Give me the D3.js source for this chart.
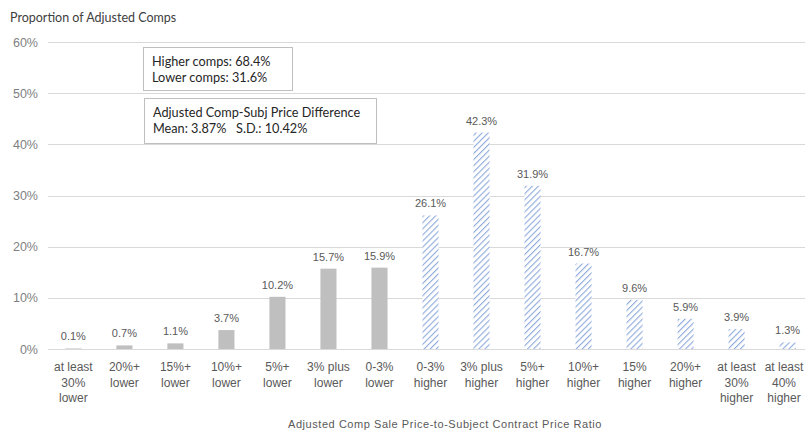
<!DOCTYPE html>
<html>
<head>
<meta charset="utf-8">
<script src="https://cdn.jsdelivr.net/npm/d3@7"></script>
<style>
  body { margin: 0; background: #fff; }
  svg { display: block; }
</style>
</head>
<body>
<svg width="805" height="433"></svg>
<script>
// categories (two groups: lower comps / higher comps)
const categories = [
  ["at least", "30%", "lower"], ["20%+", "lower"], ["15%+", "lower"], ["10%+", "lower"],
  ["5%+", "lower"], ["3% plus", "lower"], ["0-3%", "lower"],
  ["0-3%", "higher"], ["3% plus", "higher"], ["5%+", "higher"], ["10%+", "higher"],
  ["15%", "higher"], ["20%+", "higher"], ["at least", "30%", "higher"], ["at least", "40%", "higher"]
];
const values = [0.1, 0.7, 1.1, 3.7, 10.2, 15.7, 15.9, 26.1, 42.3, 31.9, 16.7, 9.6, 5.9, 3.9, 1.3];
const groups = ["lower", "lower", "lower", "lower", "lower", "lower", "lower",
                "higher", "higher", "higher", "higher", "higher", "higher", "higher", "higher"];
const yTicks = [0, 10, 20, 30, 40, 50, 60];
const boxLines1 = ["Higher comps: 68.4%", "Lower comps: 31.6%"];
const boxLines2 = ["Adjusted Comp-Subj Price Difference", "Mean: 3.87%   S.D.: 10.42%"];

let svg = d3.select("svg");
let svg_width = +svg.attr("width");

// hatch pattern for the "higher" bars
let defs = svg.append("defs");
let pat = defs.append("pattern")
    .attr("id", "hatch")
    .attr("patternUnits", "userSpaceOnUse")
    .attr("width", 4.3)
    .attr("height", 4.3)
    .attr("patternTransform", "rotate(45)");
pat.append("rect").attr("width", 4.3).attr("height", 4.3).attr("fill", "#fff");
pat.append("line")
    .attr("x1", 0).attr("y1", 0).attr("x2", 0).attr("y2", 4.3)
    .attr("stroke", "#8faadc").attr("stroke-width", 2.2);

let x = d3.scaleBand()
    .domain(d3.range(categories.length))
    .range([48, 813])
    .paddingInner(0.685)
    .paddingOuter(0.34);

let y = d3.scaleLinear()
    .domain([0, 60])
    .range([349, 42]);

// gridlines
svg.append("g")
  .selectAll("line")
  .data(yTicks)
  .enter().append("line")
    .attr("x1", 48).attr("x2", 805)
    .attr("y1", d => Math.round(y(d)) + 0.5)
    .attr("y2", d => Math.round(y(d)) + 0.5)
    .attr("stroke", "#d9d9d9")
    .attr("stroke-width", 1);

// y axis labels
let yAxis = svg.append("g")
    .attr("transform", "translate(38,0)")
    .call(d3.axisLeft(y).tickValues(yTicks).tickFormat(d => d + "%").tickSize(0).tickPadding(0));
yAxis.select(".domain").remove();
yAxis.selectAll("text")
    .attr("fill", "#7f7f7f")
    .style("font-family", "'Liberation Sans', Arial, sans-serif")
    .style("font-size", "12.5px");

// bars
svg.append("g")
  .selectAll("rect")
  .data(values)
  .enter().append("rect")
    .attr("x", (d, i) => x(i))
    .attr("width", x.bandwidth())
    .attr("y", d => y(d))
    .attr("height", d => y(0) - y(d))
    .attr("fill", (d, i) => groups[i] === "lower" ? "#bfbfbf" : "url(#hatch)");

// value labels
svg.append("g")
  .selectAll("text")
  .data(values)
  .enter().append("text")
    .attr("x", (d, i) => x(i) + x.bandwidth() / 2)
    .attr("y", d => y(d) - 8)
    .attr("text-anchor", "middle")
    .attr("fill", "#595959")
    .style("font-family", "'Liberation Sans', Arial, sans-serif")
    .style("font-size", "11px")
    .text(d => d.toFixed(1) + "%");

// category labels
let catText = svg.append("g")
  .selectAll("text")
  .data(categories)
  .enter().append("text")
    .attr("text-anchor", "middle")
    .attr("fill", "#595959")
    .style("font-family", "'Liberation Sans', Arial, sans-serif")
    .style("font-size", "12px");
catText.each(function(d, i) {
  let t = d3.select(this);
  d.forEach(function(line, j) {
    t.append("tspan")
      .attr("x", x(i) + x.bandwidth() / 2)
      .attr("y", 371 + 15.5 * j)
      .text(line);
  });
  // keep the rightmost label inside the picture
  let bb = this.getBBox();
  let over = bb.x + bb.width - (svg_width - 1);
  if (over > 0) t.attr("transform", "translate(" + (-over) + ",0)");
});

// y axis title
svg.append("text")
    .attr("x", 10)
    .attr("y", 22)
    .attr("fill", "#404040")
    .style("font-family", "Lato, sans-serif")
    .style("font-size", "12.5px")
    .text("Proportion of Adjusted Comps");

// x axis title
svg.append("text")
    .attr("x", 445)
    .attr("y", 428)
    .attr("text-anchor", "middle")
    .attr("fill", "#595959")
    .style("font-family", "'Liberation Sans', Arial, sans-serif")
    .style("font-size", "11px")
    .style("letter-spacing", "0.55px")
    .text("Adjusted Comp Sale Price-to-Subject Contract Price Ratio");

// annotation boxes
function drawBox(x0, y0, w, h, lines, base) {
  let g = svg.append("g");
  g.append("rect")
    .attr("x", x0 + 0.5).attr("y", y0 + 0.5)
    .attr("width", w).attr("height", h)
    .attr("fill", "#fff")
    .attr("stroke", "#bfbfbf");
  g.selectAll("text")
    .data(lines)
    .enter().append("text")
      .attr("x", x0 + 9)
      .attr("y", (d, i) => base + 16 * i)
      .attr("fill", "#262626")
      .style("font-family", "Lato, sans-serif")
      .style("font-size", "12.7px")
      .style("white-space", "pre")
      .text(d => d);
}
drawBox(143, 47, 149, 43, boxLines1, 66);
drawBox(144, 98, 232, 45, boxLines2, 117);
</script>
</body>
</html>
